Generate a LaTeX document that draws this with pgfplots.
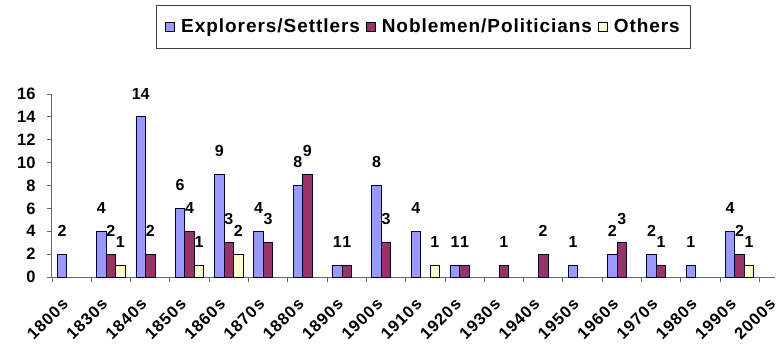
\documentclass[border=0pt]{standalone}
\usepackage{fontspec}
\setmainfont{Liberation Sans}
\newfontfamily\legfont{Liberation Sans}[LetterSpace=5]
\newfontfamily\tickfont{Liberation Sans}[LetterSpace=6]
\usepackage{pgfplots}
\pgfplotsset{compat=1.18}
\definecolor{cblue}{HTML}{9999FF}
\definecolor{cred}{HTML}{993366}
\definecolor{cyel}{HTML}{FFFFCC}
\begin{document}
\begin{tikzpicture}
\useasboundingbox (-52pt,-72pt) rectangle (726pt,277pt);
\begin{axis}[
  at={(0pt,0pt)}, anchor=south west,
  scale only axis, width=723pt, height=183pt,
  xmin=-0.5, xmax=17.9, ymin=0, ymax=16,
  axis x line=bottom, axis y line=left,
  axis line style={-, draw=black!60, line width=1pt},
  tick align=outside, major tick length=5pt,
  tick style={draw=black!60, line width=0.8pt},
  ytick={0,2,...,16},
  xtick={-0.5,0.5,...,17.5},
  xticklabels={1800s,1830s,1840s,1850s,1860s,1870s,1880s,1890s,1900s,1910s,1920s,1930s,1940s,1950s,1960s,1970s,1980s,1990s,2000s},
  /pgf/number format/assume math mode=true,
  yticklabel style={font=\bfseries\fontsize{16.5}{16.5}\selectfont, xshift=-8pt},
  xticklabel style={font=\tickfont\bfseries\fontsize{16.5}{16.5}\selectfont, xshift=9pt, yshift=-15pt, rotate=45, anchor=north east, inner sep=0pt},
  ybar=0pt, bar width=9.5pt,
  nodes near coords,
  every node near coord/.append style={font=\bfseries\fontsize{16}{16}\selectfont, yshift=14pt, text=black},
  legend columns=3,
  legend style={at={(0.514,1)}, anchor=south, yshift=45pt, draw=black!75, line width=1.2pt,
    font=\legfont\bfseries\fontsize{19}{19}\selectfont,
    /tikz/every even column/.append style={column sep=4pt},
    /tikz/every odd column/.append style={column sep=4pt},
    inner xsep=9pt, inner ysep=12pt},
  legend image code/.code={\draw[#1, draw=black, line width=0.8pt] (0pt,-4.5pt) rectangle (9pt,4.5pt);},
]
\addplot[fill=cblue, draw=black!80!blue, line width=0.8pt] coordinates {
 (0,2) (1,4) (2,14) (3,6) (4,9) (5,4) (6,8) (7,1) (8,8) (9,4) (10,1) (13,1) (14,2) (15,2) (16,1) (17,4)};
\addplot[fill=cred, draw=black!80!blue, line width=0.8pt] coordinates {
 (1,2) (2,2) (3,4) (4,3) (5,3) (6,9) (7,1) (8,3) (10,1) (11,1) (12,2) (14,3) (15,1) (17,2)};
\addplot[fill=cyel, draw=black!80!blue, line width=0.8pt] coordinates {
 (1,1) (3,1) (4,2) (9,1) (17,1)};
\legend{Explorers/Settlers, Noblemen/Politicians, Others}
\end{axis}
\end{tikzpicture}
\end{document}
